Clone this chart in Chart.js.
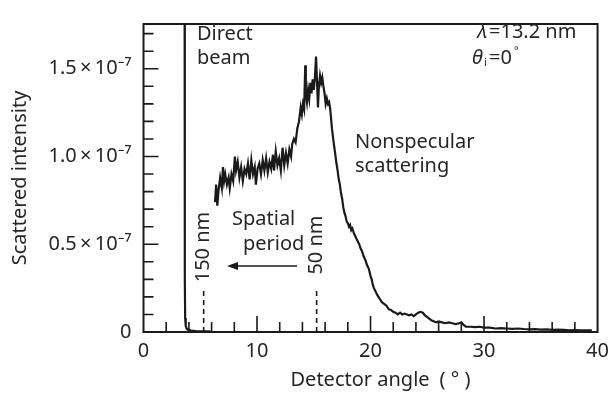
<!DOCTYPE html>
<html>
<head>
<meta charset="utf-8">
<script src="https://cdn.jsdelivr.net/npm/chart.js@4.4.1/dist/chart.umd.min.js"></script>
<style>
  html, body { margin: 0; padding: 0; background: #fff; }
  #wrap { width: 616px; height: 394px; }
</style>
</head>
<body>
<div id="wrap"><canvas id="chart"></canvas></div>
<script>
// intensities are in units of 1e-7
const beamAngle = [3.62, 3.64, 3.67, 3.72, 3.8, 3.95, 4.2, 4.6, 5.2, 5.9];
const beamIntensity = [2.2, 0.30, 0.08, 0.035, 0.02, 0.012, 0.008, 0.005, 0.004, 0.004];

const angle = [
  6.3, 6.4, 6.5, 6.6, 6.75, 6.9, 7.0, 7.1, 7.2, 7.35, 7.5, 7.6, 7.75, 7.9,
  8.05, 8.15, 8.3, 8.45, 8.6, 8.75, 8.9, 9.05, 9.2, 9.35, 9.5, 9.65, 9.8, 9.9,
  10.05, 10.2, 10.35, 10.5, 10.65, 10.8, 10.95, 11.1, 11.25, 11.4, 11.5, 11.65,
  11.8, 11.95, 12.1, 12.25, 12.4, 12.55, 12.7, 12.85, 13.0, 13.1, 13.25, 13.4,
  13.55, 13.7, 13.85, 13.95, 14.05, 14.15, 14.25, 14.3, 14.4, 14.5, 14.6, 14.7,
  14.8, 14.9, 15.0, 15.1, 15.2, 15.3, 15.37, 15.45, 15.55, 15.65, 15.75, 15.85,
  15.95, 16.05, 16.15, 16.25, 16.35, 16.45, 16.6, 16.75, 16.9, 17.0, 17.1, 17.2,
  17.3, 17.4, 17.5, 17.6, 17.7, 17.8, 17.9, 18.0, 18.1, 18.2, 18.3, 18.4, 18.55,
  18.7, 18.85, 19.0, 19.1, 19.25, 19.4, 19.55, 19.7, 19.85, 20.0, 20.1, 20.2,
  20.3, 20.45, 20.6, 20.8, 21.0, 21.2, 21.4, 21.6, 21.8, 22.0, 22.2, 22.4, 22.6,
  22.8, 23.0, 23.2, 23.4, 23.6, 23.8, 24.0, 24.2, 24.4, 24.6, 24.8, 25.0, 25.2,
  25.4, 25.6, 25.8, 26.0, 26.3, 26.6, 26.9, 27.2, 27.5, 27.8, 28.0, 28.2, 28.4,
  28.8, 29.2, 29.6, 30.0, 30.5, 31.0, 31.5, 32.0, 32.5, 33.0, 33.5, 34.0, 34.5,
  35.0, 35.5, 36.0, 36.5, 37.0, 37.5, 38.0, 38.5, 39.0, 39.5
];
const intensity = [
  0.74, 0.84, 0.72, 0.80, 0.88, 0.82, 0.94, 0.86, 0.90, 0.84, 0.88, 0.82, 0.90, 0.86,
  1.00, 0.92, 0.97, 0.88, 0.94, 0.86, 0.93, 0.90, 0.96, 0.87, 0.98, 0.90, 0.94, 0.84,
  0.93, 0.96, 0.90, 0.98, 0.92, 0.99, 0.91, 0.97, 0.93, 1.01, 0.92, 1.03,
  0.95, 0.99, 0.92, 1.05, 0.95, 1.02, 0.96, 1.04, 1.00, 1.07, 1.10, 1.08,
  1.16, 1.20, 1.28, 1.24, 1.30, 1.27, 1.52, 1.36, 1.31, 1.38, 1.33, 1.42,
  1.36, 1.44, 1.38, 1.45, 1.57, 1.40, 1.28, 1.40, 1.46, 1.42, 1.45, 1.40,
  1.36, 1.30, 1.33, 1.30, 1.31, 1.27, 1.16, 1.08, 1.01, 0.96, 0.92, 0.87,
  0.84, 0.79, 0.76, 0.71, 0.68, 0.66, 0.63, 0.62, 0.60, 0.61, 0.58, 0.59, 0.56,
  0.54, 0.52, 0.50, 0.48, 0.46, 0.43, 0.41, 0.38, 0.36, 0.32, 0.30, 0.27,
  0.25, 0.23, 0.21, 0.19, 0.17, 0.16, 0.15, 0.13, 0.125, 0.115, 0.11, 0.10, 0.11,
  0.10, 0.105, 0.10, 0.095, 0.10, 0.09, 0.10, 0.11, 0.115, 0.11, 0.095, 0.085, 0.075,
  0.065, 0.06, 0.055, 0.06, 0.055, 0.05, 0.055, 0.05, 0.045, 0.05, 0.055, 0.04, 0.03,
  0.03, 0.028, 0.03, 0.025, 0.025, 0.02, 0.022, 0.02, 0.018, 0.02, 0.017, 0.015, 0.016,
  0.014, 0.015, 0.012, 0.013, 0.012, 0.01, 0.011, 0.01, 0.01, 0.009
];

// spatial period markers (dashed)
const periodLabels = ['150 nm', '50 nm'];
const periodAngle = [5.3, 15.25];
const markerTop = 0.24;

const xTicks = [0, 10, 20, 30, 40];
const yTicks = [0, 0.5, 1.0, 1.5];

const FONT = '"Noto Sans", "Liberation Sans", sans-serif';
const INK = '#1a1a1a';
const TXT = '#262626';

const toPoints = (xs, ys) => xs.map((x, i) => ({ x, y: ys[i] }));

const markerSets = periodAngle.map(a => ({
  data: [{ x: a, y: 0 }, { x: a, y: markerTop }],
  borderColor: INK,
  borderWidth: 1.6,
  borderDash: [5, 4],
  pointRadius: 0
}));

// frame, inward ticks and the in-plot notes
const decorations = {
  id: 'decorations',
  afterDraw(chart) {
    const { ctx, chartArea: a, scales } = chart;
    const xs = scales.x, ys = scales.y;
    ctx.save();
    ctx.strokeStyle = INK;
    ctx.lineWidth = 2;
    ctx.strokeRect(a.left, a.top, a.right - a.left, a.bottom - a.top);

    ctx.lineWidth = 1.6;
    ctx.beginPath();
    for (let v = 2; v < 40; v += 2) {
      const px = xs.getPixelForValue(v);
      const len = v % 10 === 0 ? 16 : 10;
      ctx.moveTo(px, a.bottom);
      ctx.lineTo(px, a.bottom - len);
    }
    for (let k = 1; k <= 17; k++) {
      const py = ys.getPixelForValue(k / 10);
      const len = k % 5 === 0 ? 15 : 10;
      ctx.moveTo(a.left, py);
      ctx.lineTo(a.left + len, py);
    }
    ctx.stroke();

    ctx.fillStyle = TXT;
    ctx.font = '20px ' + FONT;
    ctx.textBaseline = 'alphabetic';
    ctx.textAlign = 'left';
    ctx.fillText('Direct', 197, 40);
    ctx.fillText('beam', 197, 64);
    ctx.fillText('Nonspecular', 355, 148);
    ctx.fillText('scattering', 355, 172);
    ctx.fillText('Spatial', 232, 225);
    ctx.fillText('period', 243, 250);

    // wavelength / incidence angle
    ctx.font = 'italic 20px ' + FONT;
    ctx.fillText('\u03bb', 477, 38);
    ctx.font = '20px ' + FONT;
    ctx.fillText('=13.2 nm', 489, 38);
    ctx.font = 'italic 20px ' + FONT;
    ctx.fillText('\u03b8', 472, 64);
    ctx.font = '11px ' + FONT;
    ctx.fillText('i', 484, 66);
    ctx.font = '20px ' + FONT;
    ctx.fillText('=0', 489, 64);
    ctx.font = '11px ' + FONT;
    ctx.fillText('\u00b0', 514, 54);

    // arrow toward longer periods
    const ay = 266;
    ctx.fillStyle = INK;
    ctx.lineWidth = 1.6;
    ctx.beginPath();
    ctx.moveTo(297, ay);
    ctx.lineTo(234, ay);
    ctx.stroke();
    ctx.beginPath();
    ctx.moveTo(227, ay);
    ctx.lineTo(238, ay - 4);
    ctx.lineTo(238, ay + 4);
    ctx.closePath();
    ctx.fill();

    // rotated period labels
    ctx.fillStyle = TXT;
    ctx.font = '20px ' + FONT;
    ctx.textAlign = 'center';
    ctx.textBaseline = 'middle';
    periodAngle.forEach((p, i) => {
      const px = xs.getPixelForValue(p);
      ctx.save();
      ctx.translate(px, i === 0 ? 247 : 245);
      ctx.rotate(-Math.PI / 2);
      ctx.fillText(periodLabels[i], 0, 0);
      ctx.restore();
    });
    ctx.restore();
  }
};

new Chart(document.getElementById('chart'), {
  type: 'line',
  data: {
    datasets: [
      {
        data: toPoints(beamAngle, beamIntensity),
        borderColor: INK,
        borderWidth: 2.2,
        pointRadius: 0
      },
      {
        data: toPoints(angle, intensity),
        borderColor: INK,
        borderWidth: 2.2,
        pointRadius: 0
      },
      ...markerSets
    ]
  },
  options: {
    responsive: true,
    maintainAspectRatio: false,
    animation: false,
    events: [],
    layout: { padding: { top: 10, right: 14, left: 0, bottom: 0 } },
    plugins: { legend: { display: false }, tooltip: { enabled: false } },
    scales: {
      x: {
        type: 'linear',
        min: 0,
        max: 40,
        afterFit: s => { s.height = 62; },
        afterBuildTicks: s => { s.ticks = xTicks.map(v => ({ value: v })); },
        grid: { display: false, drawTicks: false },
        border: { display: false },
        ticks: {
          padding: 7,
          color: TXT,
          font: { family: FONT, size: 20 },
          maxRotation: 0
        },
        title: {
          display: true,
          text: '\u2003Detector angle\u2002( \u00b0 )',
          color: TXT,
          font: { family: FONT, size: 20 },
          padding: { top: 0, bottom: 2 }
        }
      },
      y: {
        min: 0,
        max: 1.755,
        afterFit: s => { s.width = 143.5; },
        afterBuildTicks: s => { s.ticks = yTicks.map(v => ({ value: v })); },
        grid: { display: false, drawTicks: false },
        border: { display: false },
        ticks: {
          padding: 12,
          color: TXT,
          font: { family: FONT, size: 20 },
          callback: v => v === 0 ? '0' : v.toFixed(1) + '\u2009\u00d7\u200910\u207b\u2077'
        },
        title: {
          display: true,
          text: 'Scattered intensity',
          color: TXT,
          font: { family: FONT, size: 20 },
          padding: { top: 8, bottom: 0 }
        }
      }
    }
  },
  plugins: [decorations]
});
</script>
</body>
</html>
